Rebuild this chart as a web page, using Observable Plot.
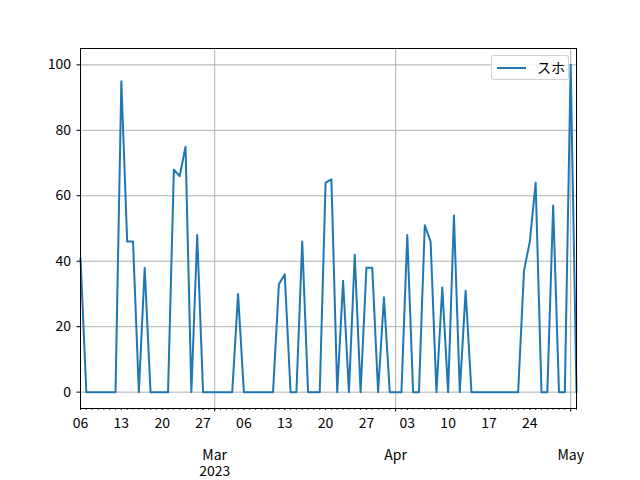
<!DOCTYPE html>
<html>
<head>
<meta charset="utf-8">
<script src="https://cdn.jsdelivr.net/npm/d3@7"></script>
<script src="https://cdn.jsdelivr.net/npm/@observablehq/plot@0.6"></script>
<style>
  body { margin: 0; background: white; }
  #wrap { position: relative; width: 640px; height: 480px; }
  #legend {
    position: absolute; left: 491px; top: 55px; width: 78px; height: 25px;
    border: 1px solid rgba(204,204,204,0.9); border-radius: 3px; background: rgba(255,255,255,0.8);
    font-family: 'Noto Sans CJK JP', sans-serif; font-size: 14px; color: #000;
    box-sizing: border-box;
  }
  #legend .sw { position: absolute; left: 5px; top: 10.5px; width: 29px; height: 2px; background: #1f77b4; }
  #legend .lb { position: absolute; left: 45px; top: 2px; line-height: 18px; }
</style>
</head>
<body>
<div id="wrap"><div id="legend"><div class="sw"></div><div class="lb">スホ</div></div></div>
<script>
const seriesName = "スホ";
const startDate = "2023-02-06";
const endDate = "2023-05-02";
const values = [
  41, 0, 0, 0, 0, 0, 0, 95, 46, 46,
  0, 38, 0, 0, 0, 0, 68, 66, 75, 0,
  48, 0, 0, 0, 0, 0, 0, 30, 0, 0,
  0, 0, 0, 0, 33, 36, 0, 0, 46, 0,
  0, 0, 64, 65, 0, 34, 0, 42, 0, 38,
  38, 0, 29, 0, 0, 0, 48, 0, 0, 51,
  46, 0, 32, 0, 54, 0, 31, 0, 0, 0,
  0, 0, 0, 0, 0, 0, 37, 46, 64, 0,
  0, 57, 0, 0, 100, 0
];
const yTicks = [0, 20, 40, 60, 80, 100];
const weekLabels = ["2023-02-06","2023-02-13","2023-02-20","2023-02-27","2023-03-06","2023-03-13","2023-03-20","2023-03-27","2023-04-03","2023-04-10","2023-04-17","2023-04-24"];
const monthTicks = ["2023-03-01","2023-04-01","2023-05-01"];
const monthLabels = ["Mar", "Apr", "May"];
const yearTick = "2023-03-01";
const yearLabel = "2023";

const start = new Date(startDate + "T00:00:00Z");
const end = new Date(endDate + "T00:00:00Z");
const dates = values.map((_, i) => d3.utcDay.offset(start, i));
const data = dates.map((d, i) => ({date: d, value: values[i]}));
const dayTicks = d3.utcDay.range(start, d3.utcDay.offset(end, 1));
const weekDates = weekLabels.map(s => new Date(s + "T00:00:00Z"));
const monthDates = monthTicks.map(s => new Date(s + "T00:00:00Z"));
const monthFmt = new Map(monthDates.map((d, i) => [+d, monthLabels[i]]));
const yearDate = new Date(yearTick + "T00:00:00Z");

const chart = Plot.plot({
  width: 640,
  height: 480,
  marginLeft: 80,
  marginRight: 64,
  marginTop: 48,
  marginBottom: 72,
  style: {fontFamily: "'Noto Sans CJK JP', sans-serif", fontSize: "14px", background: "white", color: "black"},
  x: {type: "utc", domain: [start, end]},
  y: {domain: [-5, 105]},
  marks: [
    Plot.gridY({ticks: yTicks, stroke: "#b0b0b0", strokeOpacity: 1, strokeWidth: 1}),
    Plot.gridX({ticks: monthDates, stroke: "#b0b0b0", strokeOpacity: 1, strokeWidth: 1}),
    Plot.line(data, {x: "date", y: "value", stroke: "#1f77b4", strokeWidth: 2}),
    Plot.axisY({ticks: yTicks, tickSize: 3.5, tickPadding: 6, label: null, strokeWidth: 1}),
    Plot.axisX({ticks: dayTicks, tickSize: 2, tickFormat: () => "", label: null, strokeWidth: 0.7}),
    Plot.axisX({ticks: weekDates, tickSize: 2, tickPadding: 8, tickFormat: d3.utcFormat("%d"), label: null, strokeWidth: 0.7}),
    Plot.axisX({ticks: monthDates, tickSize: 3.5, tickPadding: 38.5, tickFormat: d => monthFmt.get(+d), label: null, strokeWidth: 1}),
    Plot.axisX({ticks: [yearDate], tickSize: 0, tickPadding: 58, tickFormat: () => yearLabel, label: null}),
    Plot.frame({stroke: "black", strokeWidth: 1})
  ]
});
document.getElementById("wrap").prepend(chart);
</script>
</body>
</html>
